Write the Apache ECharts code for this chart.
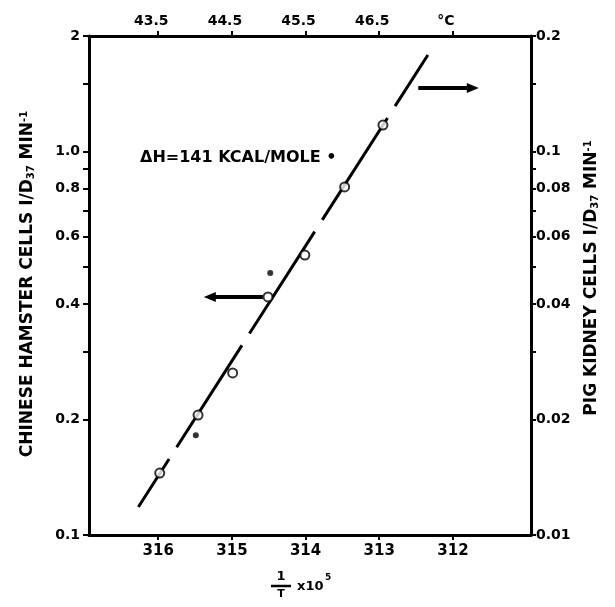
<!DOCTYPE html>
<html><head><meta charset="utf-8">
<script src="https://cdn.jsdelivr.net/npm/echarts@6/dist/echarts.min.js"></script>
<style>html,body{margin:0;padding:0;background:#fff}#c{width:615px;height:607px}</style>
</head><body><div id="c"></div>
<script>
// ---- data ----
const xTicks = [316, 315, 314, 313, 312];
const topLabels = ['43.5', '44.5', '45.5', '46.5', '°C'];
const leftLabelValues = [0.1, 0.2, 0.4, 0.6, 0.8, 1, 2];
const leftLabelTexts = ['0.1', '0.2', '0.4', '0.6', '0.8', '1.0', '2'];
const leftTickValues = [0.1, 0.2, 0.3, 0.4, 0.5, 0.6, 0.7, 0.8, 0.9, 1, 1.5, 2];
const rightLabelValues = [0.01, 0.02, 0.04, 0.06, 0.08, 0.1, 0.2];
const rightLabelTexts = ['0.01', '0.02', '0.04', '0.06', '0.08', '0.1', '0.2'];
const rightTickValues = [0.01, 0.02, 0.03, 0.04, 0.05, 0.06, 0.07, 0.08, 0.09, 0.1, 0.15, 0.2];
const hamsterX = [315.98, 315.46, 314.99, 314.51, 314.01, 313.47, 312.95];
const hamsterY = [0.145, 0.2055, 0.2645, 0.4175, 0.537, 0.808, 1.172];
const pigX = [315.49, 314.48];
const pigY = [0.0182, 0.0482];
const fitX = [316.27, 312.34];
const fitY = [0.1183, 1.785];
const leftArrowX = [315.30, 314.58];
const leftArrowY = [0.4175, 0.4175];
const rightArrowX = [312.47, 311.73];
const rightArrowY = [0.1464, 0.1464];
const xMin = 310.94, xMax = 316.94;

const FONT = 'DejaVu Sans';
const chart = echarts.init(document.getElementById('c'), null, {renderer: 'canvas'});

function lbl(values, texts) {
  return v => {
    for (let i = 0; i < values.length; i++) if (Math.abs(values[i] - v) < 1e-6 * Math.max(1, Math.abs(v))) return texts[i];
    return '';
  };
}
const axisLine = {show: true, onZero: false, lineStyle: {color: '#000', width: 3}};
const labelStyle = {color: '#000', fontFamily: FONT, fontWeight: 'bold', fontSize: 14};
const titleRich = {
  a: {font: 'bold 17px "' + FONT + '"', fill: '#000'},
  s: {font: 'bold 10px "' + FONT + '"', fill: '#000', verticalAlign: 'bottom', padding: [7, 0, 0, 0]},
  p: {font: 'bold 10px "' + FONT + '"', fill: '#000', verticalAlign: 'top', padding: [0, 0, 7, 0]}
};

const option = {
  backgroundColor: '#fff',
  animation: false,
  grid: {left: 89, right: 84, top: 36, bottom: 72},
  xAxis: [
    {type: 'value', min: xMin, max: xMax, inverse: true, position: 'bottom',
     axisLine, splitLine: {show: false},
     axisTick: {show: true, inside: false, length: 5, lineStyle: {width: 2, color: '#000'}, customValues: xTicks},
     axisLabel: Object.assign({margin: 9, customValues: xTicks, formatter: v => String(v)}, labelStyle, {fontSize: 15})},
    {type: 'value', min: xMin, max: xMax, inverse: true, position: 'top',
     axisLine, splitLine: {show: false},
     axisTick: {show: true, inside: false, length: 5, lineStyle: {width: 2, color: '#000'}, customValues: xTicks},
     axisLabel: Object.assign({margin: 8, customValues: xTicks, padding: [0, 14, 0, 0],
       formatter: lbl(xTicks, topLabels)}, labelStyle)}
  ],
  yAxis: [
    {type: 'log', logBase: 10, min: 0.1, max: 2, position: 'left',
     axisLine, splitLine: {show: false}, minorTick: {show: false},
     axisTick: {show: true, inside: false, length: 6, lineStyle: {width: 2, color: '#000'}, customValues: leftTickValues},
     axisLabel: Object.assign({margin: 9, customValues: leftLabelValues, formatter: lbl(leftLabelValues, leftLabelTexts)}, labelStyle)},
    {type: 'log', logBase: 10, min: 0.01, max: 0.2, position: 'right',
     axisLine, splitLine: {show: false}, minorTick: {show: false},
     axisTick: {show: true, inside: false, length: 5, lineStyle: {width: 2, color: '#000'}, customValues: rightTickValues},
     axisLabel: Object.assign({margin: 5, customValues: rightLabelValues, formatter: lbl(rightLabelValues, rightLabelTexts)}, labelStyle)}
  ],
  series: [
    {type: 'line', xAxisIndex: 0, yAxisIndex: 0, symbol: 'none', z: 2,
     data: fitX.map((x, i) => [x, fitY[i]]),
     lineStyle: {color: '#000', width: 3, type: [121, 14], dashOffset: 64}},
    {type: 'scatter', xAxisIndex: 0, yAxisIndex: 0, symbol: 'circle', symbolSize: 9, z: 5,
     data: hamsterX.map((x, i) => [x, hamsterY[i]]),
     itemStyle: {color: '#fff', borderColor: '#000', borderWidth: 2}},
    {type: 'scatter', xAxisIndex: 0, yAxisIndex: 1, symbol: 'circle', symbolSize: 6, z: 5,
     data: pigX.map((x, i) => [x, pigY[i]]),
     itemStyle: {color: '#000'}},
    {type: 'line', xAxisIndex: 0, yAxisIndex: 0, z: 4,
     data: [{value: [leftArrowX[0], leftArrowY[0]], symbol: 'triangle', symbolSize: [10, 12], symbolRotate: 90},
            {value: [leftArrowX[1], leftArrowY[1]], symbol: 'none'}],
     lineStyle: {color: '#000', width: 4}, itemStyle: {color: '#000'}},
    {type: 'line', xAxisIndex: 0, yAxisIndex: 1, z: 4,
     data: [{value: [rightArrowX[0], rightArrowY[0]], symbol: 'none'},
            {value: [rightArrowX[1], rightArrowY[1]], symbol: 'triangle', symbolSize: [10, 12], symbolRotate: -90}],
     lineStyle: {color: '#000', width: 4}, itemStyle: {color: '#000'}}
  ],
  graphic: [
    {type: 'text', left: 140, top: 150, style: {text: 'ΔH=141 KCAL/MOLE •', fill: '#000',
      font: 'bold 16px "' + FONT + '"'}},
    {type: 'text', x: 28, y: 284, rotation: Math.PI / 2,
     style: {text: '{a|CHINESE HAMSTER CELLS I/D}{s|37}{a| MIN}{p|-1}', align: 'center', verticalAlign: 'middle', rich: titleRich}},
    {type: 'text', x: 592, y: 278, rotation: Math.PI / 2,
     style: {text: '{a|PIG KIDNEY CELLS I/D}{s|37}{a| MIN}{p|-1}', align: 'center', verticalAlign: 'middle', rich: titleRich}},
    {type: 'text', x: 281, y: 577, style: {text: '1', align: 'center', verticalAlign: 'middle', fill: '#000', font: 'bold 13px "' + FONT + '"'}},
    {type: 'line', shape: {x1: 271, y1: 586, x2: 291, y2: 586}, style: {stroke: '#000', lineWidth: 2.5}},
    {type: 'text', x: 281, y: 594, style: {text: 'T', align: 'center', verticalAlign: 'middle', fill: '#000', font: 'bold 11px "' + FONT + '"'}},
    {type: 'text', x: 297, y: 587, style: {text: 'x10', align: 'left', verticalAlign: 'middle', fill: '#000', font: 'bold 13px "' + FONT + '"'}},
    {type: 'text', x: 325, y: 578, style: {text: '5', align: 'left', verticalAlign: 'middle', fill: '#000', font: 'bold 9px "' + FONT + '"'}}
  ]
};
chart.setOption(option);
</script>
</body></html>
